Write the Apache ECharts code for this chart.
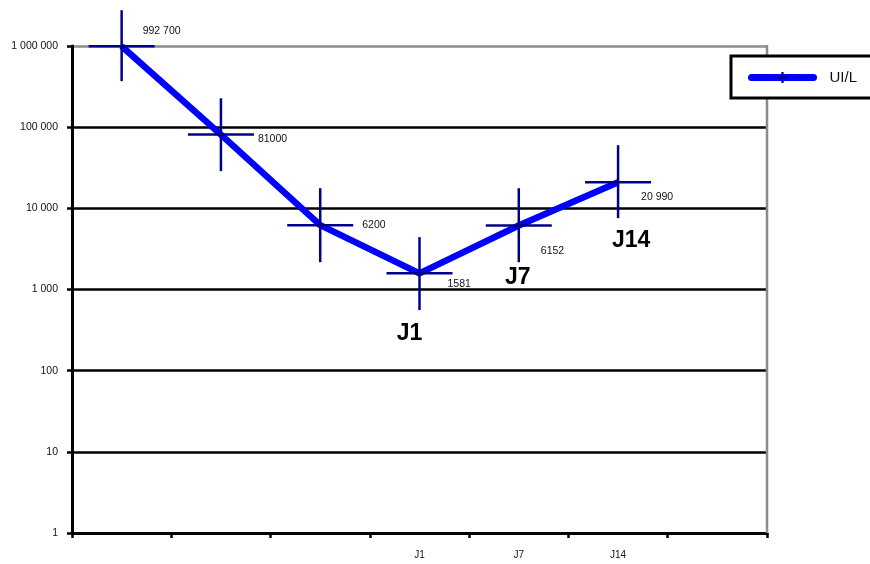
<!DOCTYPE html>
<html>
<head>
<meta charset="utf-8">
<script src="https://cdn.jsdelivr.net/npm/echarts@6/dist/echarts.min.js"></script>
<style>html,body{margin:0;padding:0;background:#fff}#c{width:870px;height:564px}</style>
</head>
<body>
<div id="c"></div>
<script>
// Categories along the x axis (only the last three are named)
const categories = ['', '', '', 'J1', 'J7', 'J14', ''];
// UI/L values per category
const values = [992700, 81000, 6200, 1581, 6152, 20990];
// Value labels as printed next to each point
const valueLabels = ['992 700', '81000', '6200', '1581', '6152', '20 990'];
// Error range (low / high) for each point
const errLow = [369000, 28700, 2170, 557, 2170, 7570];
const errHigh = [2760000, 227000, 17700, 4420, 17700, 60000];
// Callout names for the later measurements
const callouts = ['', '', '', 'J1', 'J7', 'J14'];
// Y axis tick labels
const yTicks = {1: '1', 10: '10', 100: '100', 1000: '1 000', 10000: '10 000', 100000: '100 000', 1000000: '1 000 000'};

const FONT = 'Liberation Sans, Arial, sans-serif';
const labelOffsets = [[21, -15], [37, 5], [42, 0], [28, 11], [22, 26], [23, 15]];
const calloutOffsets = [[0, 0], [0, 0], [0, 0], [-10, 60], [-1, 52], [13, 58]];

const chart = echarts.init(document.getElementById('c'));

const errData = values.map((v, i) => [i, v, errLow[i], errHigh[i]]);

chart.setOption({
  animation: false,
  backgroundColor: '#fff',
  grid: {left: 72, right: 103, top: 46, bottom: 31},
  legend: {
    left: 731, top: 56,
    padding: [14, 90, 13, 17],
    borderColor: '#000', borderWidth: 3, backgroundColor: '#fff',
    itemWidth: 62, itemHeight: 14,
    lineStyle: {width: 7, cap: 'round'},
    textStyle: {fontFamily: FONT, fontSize: 15, color: '#111', padding: [0, 0, 0, 11]},
    data: ['UI/L']
  },
  xAxis: {
    type: 'category',
    data: categories,
    boundaryGap: true,
    axisLine: {lineStyle: {color: '#000', width: 3}},
    axisTick: {show: true, length: 5, lineStyle: {color: '#000', width: 2.5}, interval: 0},
    axisLabel: {interval: 0, fontFamily: FONT, fontSize: 10, color: '#111', margin: 17},
    splitLine: {show: false}
  },
  yAxis: {
    type: 'log', logBase: 10, min: 1, max: 1000000,
    axisLine: {show: true, lineStyle: {color: '#000', width: 3}},
    axisTick: {show: true, length: 5, lineStyle: {color: '#000', width: 2.5}},
    axisLabel: {fontFamily: FONT, fontSize: 10.5, color: '#111', margin: 14,
      formatter: v => yTicks[Math.round(v)] || ''},
    splitLine: {show: true, lineStyle: {color: ['#000', '#000', '#000', '#000', '#000', '#000', '#8c8c8c'], width: 2.5}}
  },
  graphic: [{
    type: 'line', z: 1,
    shape: {x1: 767, y1: 45, x2: 767, y2: 533},
    style: {stroke: '#8c8c8c', lineWidth: 2.5}
  }],
  series: [
    {
      name: 'UI/L',
      type: 'line',
      data: values.concat(['-']),
      symbol: 'path://M4,0h2v4h4v2h-4v4h-2v-4h-4v-2h4z',
      symbolSize: 12,
      showSymbol: false,
      itemStyle: {color: '#00008b'},
      lineStyle: {color: '#0000ff', width: 6.5},
      z: 3
    },
    {
      type: 'custom',
      z: 4,
      data: errData,
      renderItem: (params, api) => {
        const i = api.value(0);
        const c = api.coord([i, api.value(1)]);
        const lo = api.coord([i, api.value(2)]);
        const hi = api.coord([i, api.value(3)]);
        const st = {stroke: '#00008b', lineWidth: 2.5};
        return {
          type: 'group',
          children: [
            {type: 'line', shape: {x1: c[0], y1: hi[1], x2: c[0], y2: lo[1]}, style: st},
            {type: 'line', shape: {x1: c[0] - 33, y1: c[1], x2: c[0] + 33, y2: c[1]}, style: st}
          ]
        };
      },
      tooltip: {show: false}
    },
    {
      type: 'scatter',
      z: 5,
      symbolSize: 0,
      silent: true,
      itemStyle: {opacity: 1},
      data: values.map((v, i) => ({
        value: [i, v],
        label: {
          show: true, position: 'inside',
          offset: labelOffsets[i], align: 'left', verticalAlign: 'middle',
          formatter: valueLabels[i],
          fontFamily: FONT, fontSize: 10.5, color: '#111'
        }
      }))
    },
    {
      type: 'scatter',
      z: 5,
      symbolSize: 0,
      silent: true,
      itemStyle: {opacity: 1},
      data: values.map((v, i) => ({
        value: [i, v],
        label: {
          show: callouts[i] !== '', position: 'inside',
          offset: calloutOffsets[i], align: 'center', verticalAlign: 'middle',
          formatter: callouts[i],
          fontFamily: FONT, fontSize: 23, fontWeight: 'bold', color: '#000'
        }
      }))
    }
  ]
});
</script>
</body>
</html>
